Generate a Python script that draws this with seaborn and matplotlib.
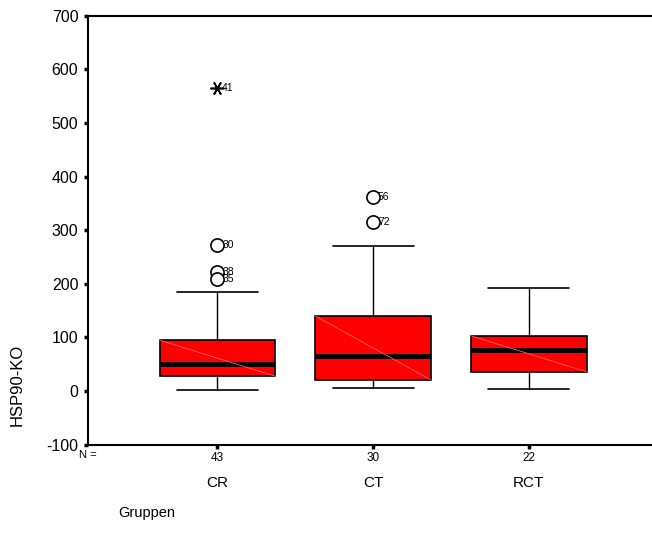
import seaborn as sns
import matplotlib.pyplot as plt
import matplotlib.transforms as mtransforms

# groups and box statistics
groups = ['CR', 'CT', 'RCT']
n_cases = [43, 30, 22]
q1 = [28, 21, 36]
median = [50, 65, 77]
q3 = [95, 140, 103]
whisk_lo = [2, 6, 4]
whisk_hi = [185, 271, 193]

# outliers (circles) and extremes (stars), with case numbers
outlier_grp = [0, 0, 0, 1, 1]
outlier_val = [273, 222, 209, 363, 316]
outlier_ids = ['30', '38', '35', '56', '72']
extreme_grp = [0]
extreme_val = [566]
extreme_ids = ['41']

sns.set_style('white')
plt.rcParams['font.family'] = ['Liberation Sans', 'DejaVu Sans']
plt.rcParams['axes.unicode_minus'] = False
plt.rcParams['text.color'] = 'black'

fig = plt.figure(figsize=(6.52, 5.47), dpi=100)
ax = fig.add_axes([0.135, 0.187, 0.865, 0.784])

stats = []
for i, g in enumerate(groups):
    stats.append(dict(label=g, q1=q1[i], med=median[i], q3=q3[i],
                      whislo=whisk_lo[i], whishi=whisk_hi[i], fliers=[]))

ax.bxp(stats, positions=range(len(groups)), widths=0.74, patch_artist=True,
       showfliers=False,
       boxprops=dict(facecolor='#ff0000', edgecolor='black', linewidth=1.2),
       medianprops=dict(color='black', linewidth=3.5, solid_capstyle='butt'),
       whiskerprops=dict(color='black', linewidth=1),
       capprops=dict(color='black', linewidth=1.2),
       capwidths=0.52, zorder=2)

# faint diagonal inside each box (SPSS look)
for i in range(len(groups)):
    ax.plot([i - 0.37, i + 0.37], [q3[i], q1[i]], color='#ff6060', lw=0.6, zorder=3)

sns.scatterplot(x=outlier_grp, y=outlier_val, ax=ax, marker='o', s=90,
                facecolor='white', edgecolor='black', linewidth=1.2, zorder=4)
for g, v, t in zip(outlier_grp, outlier_val, outlier_ids):
    ax.annotate(t, (g, v), xytext=(3.5, 0), textcoords='offset points',
                va='center', ha='left', fontsize=7.5)

ax.plot(extreme_grp, extreme_val, linestyle='none', marker=(6, 2, 90),
        markersize=10, color='black', markeredgewidth=1.2, zorder=4)
for g, v, t in zip(extreme_grp, extreme_val, extreme_ids):
    ax.annotate(t, (g, v), xytext=(3.5, 0), textcoords='offset points',
                va='center', ha='left', fontsize=7.5)

ax.set_xlim(-0.83, 2.79)
ax.set_ylim(-100, 700)
ax.set_yticks(range(-100, 701, 100))
ax.tick_params(axis='y', left=True, direction='out', length=3, width=2.5,
               color='black', labelcolor='black', labelsize=11.5, pad=4)
ax.tick_params(axis='x', bottom=True, direction='out', length=3, width=2.5,
               color='black', labelcolor='black', labelsize=8.5, pad=2)
ax.set_xticks(range(len(groups)))
ax.set_xticklabels([str(n) for n in n_cases])

for side in ['left', 'bottom', 'top']:
    ax.spines[side].set_color('black')
    ax.spines[side].set_linewidth(1.5)
ax.spines['right'].set_visible(False)

trans = mtransforms.blended_transform_factory(ax.transData, ax.transAxes)
for i, g in enumerate(groups):
    ax.text(i, -0.074, g, transform=trans, ha='center', va='top', fontsize=11)
ax.text(-0.83, -0.012, 'N =', transform=trans, ha='center', va='top', fontsize=8)

fig.text(0.026, 0.296, 'HSP90-KO', rotation=90, ha='center', va='center', fontsize=12)
fig.text(0.181, 0.062, 'Gruppen', ha='left', va='center', fontsize=10.5)

fig.savefig('out.png', dpi=100)
